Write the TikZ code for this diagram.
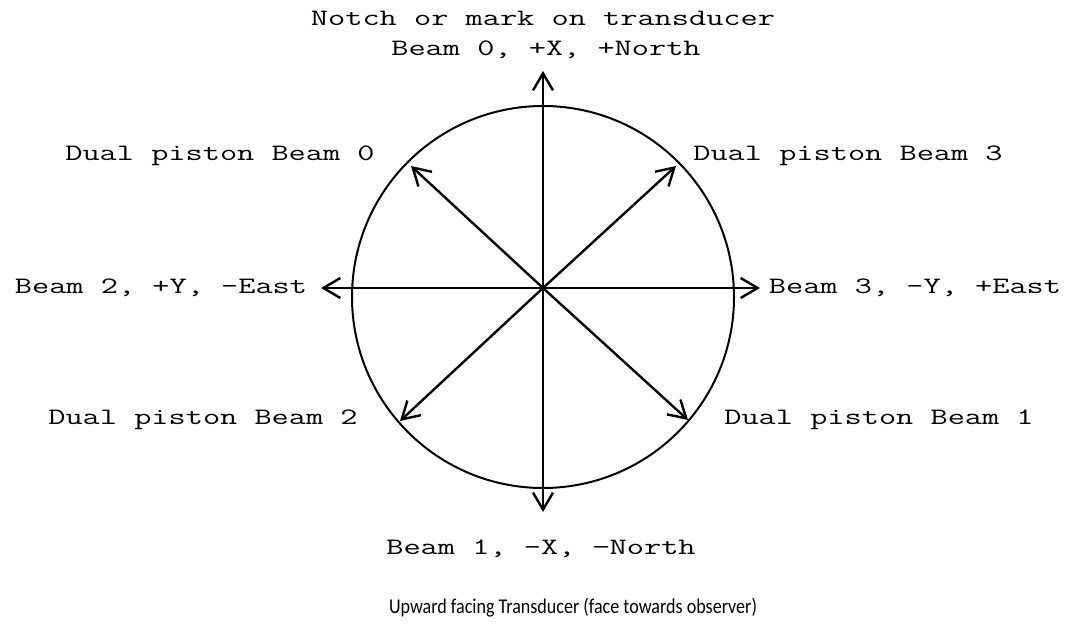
\documentclass[tikz,border=0pt]{standalone}
\usepackage{fontspec}
\setmainfont{Carlito}
\newfontfamily\beamfont[FakeStretch=1.42]{Latin Modern Mono}
\newfontfamily\capfont[FakeStretch=0.86]{Carlito}
\usetikzlibrary{arrows.meta}
\tikzset{
  beam/.style={-{Straight Barb[length=17pt,width=20pt]}, line width=2.4pt, draw=black},
  ring/.style={circle, draw=black, line width=2pt, inner sep=0pt, minimum size=382pt},
  lbl/.style={inner sep=0pt, font=\beamfont\fontsize{23.5}{28}\selectfont},
  caption/.style={inner sep=0pt, font=\capfont\fontsize{21}{25}\selectfont}
}

\begin{document}
\begin{tikzpicture}[x=1pt, y=-1pt]
  \useasboundingbox (0,0) rectangle (1071,637);

  \node[ring] (face) at (543,297) {};
  \coordinate (ctr) at (543,288);

  % beam tips
  \coordinate (b0tip) at (543,71);
  \coordinate (b1tip) at (543,512);
  \coordinate (b2tip) at (321,288);
  \coordinate (b3tip) at (760,288);
  \coordinate (dp0tip) at (411,166);
  \coordinate (dp3tip) at (676,166);
  \coordinate (dp2tip) at (400,421);
  \coordinate (dp1tip) at (688,420);

  \foreach \t in {b0tip,b1tip,b2tip,b3tip,dp0tip,dp1tip,dp2tip,dp3tip}
    \draw[beam] (ctr) -- (\t);

  % labels
  \node[lbl] (notch) at (543,18) {Notch or mark on transducer};
  \node[lbl] (b0) at (546,50) {Beam 0, +X, +North};
  \node[lbl] (dp0) at (220,156) {Dual piston Beam 0};
  \node[lbl] (dp3) at (848,156) {Dual piston Beam 3};
  \node[lbl] (b2) at (161,288) {Beam 2, +Y, -East};
  \node[lbl] (b3) at (915,288) {Beam 3, -Y, +East};
  \node[lbl] (dp2) at (203,420) {Dual piston Beam 2};
  \node[lbl] (dp1) at (879,420) {Dual piston Beam 1};
  \node[lbl] (b1) at (541,549) {Beam 1, -X, −North};

  \node[caption] (title) at (573,608) {Upward facing Transducer (face towards observer)};
\end{tikzpicture}
\end{document}
